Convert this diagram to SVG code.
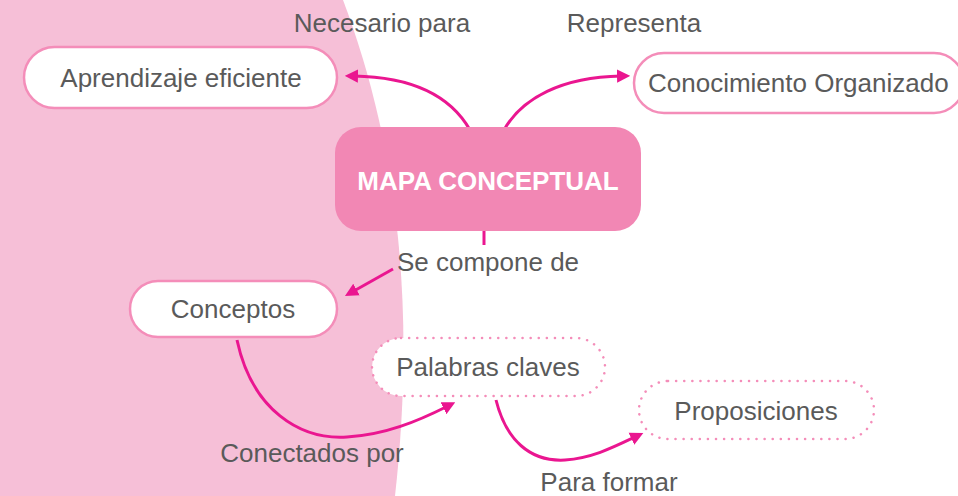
<svg xmlns="http://www.w3.org/2000/svg" width="958" height="496" viewBox="0 0 958 496">
<defs>
<style>
.t{font-family:"Liberation Sans",Arial,sans-serif;font-size:26px;fill:#5a5a5a}
.tb{font-family:"Liberation Sans",Arial,sans-serif;font-size:26px;font-weight:bold;fill:#ffffff}
.solid{fill:#ffffff;stroke:#F48DB9;stroke-width:2.5}
.dot{fill:#ffffff;stroke:#F48DB9;stroke-width:2.5;stroke-dasharray:0.1 8;stroke-linecap:round}
.c{fill:none;stroke:#EA1690;stroke-width:3}
</style>
<marker id="ah" viewBox="0 0 10 10" refX="3" refY="5" markerWidth="4.4" markerHeight="6.4" markerUnits="strokeWidth" orient="auto">
<path d="M0,0 L10,5 L0,10 Z" fill="#EA1690"/>
</marker>
</defs>
<rect width="958" height="496" fill="#ffffff"/>
<path d="M0,0 L343,0 C392,130 418,290 395,496 L0,496 Z" fill="#F6BFD7"/>
<g id="connectors">
<path class="c" d="M470,130 C450,95 410,77 354,76" marker-end="url(#ah)"/>
<path class="c" d="M504,130 C522,98 562,77 621,76" marker-end="url(#ah)"/>
<path class="c" d="M484,231 L484,245"/>
<path class="c" d="M393,269 L353,291.5" marker-end="url(#ah)"/>
<path class="c" d="M237,340 C252,410 300,440 347,437 C385,435 418,421 447,406.5" marker-end="url(#ah)"/>
<path class="c" d="M496,400 C506,440 530,462 565,460 C592,458 612,448 635,437" marker-end="url(#ah)"/>
</g>
<g id="n-aprendizaje">
<rect class="solid" x="24" y="47" width="313" height="61" rx="30.5"/>
<text class="t" x="181" y="87" text-anchor="middle">Aprendizaje eficiente</text>
</g>
<g id="n-conocimiento">
<rect class="solid" x="634" y="53" width="330" height="60" rx="30"/>
<text class="t" x="648" y="92">Conocimiento Organizado</text>
</g>
<g id="n-mapa">
<rect x="335" y="127" width="306" height="104" rx="26" fill="#F287B4"/>
<text class="tb" x="488" y="190" text-anchor="middle">MAPA CONCEPTUAL</text>
</g>
<g id="n-conceptos">
<rect class="solid" x="130" y="281" width="207" height="56" rx="28"/>
<text class="t" x="233" y="318" text-anchor="middle">Conceptos</text>
</g>
<g id="n-palabras">
<rect class="dot" x="372" y="338" width="233" height="58" rx="29"/>
<text class="t" x="488" y="376" text-anchor="middle">Palabras claves</text>
</g>
<g id="n-proposiciones">
<rect class="dot" x="639" y="381" width="235" height="58" rx="29"/>
<text class="t" x="756" y="420" text-anchor="middle">Proposiciones</text>
</g>
<g id="labels">
<text class="t" x="382" y="32" text-anchor="middle">Necesario para</text>
<text class="t" x="634" y="32" text-anchor="middle">Representa</text>
<text class="t" x="488" y="271" text-anchor="middle">Se compone de</text>
<text class="t" x="312" y="462" text-anchor="middle">Conectados por</text>
<text class="t" x="609" y="491" text-anchor="middle">Para formar</text>
</g>
</svg>
